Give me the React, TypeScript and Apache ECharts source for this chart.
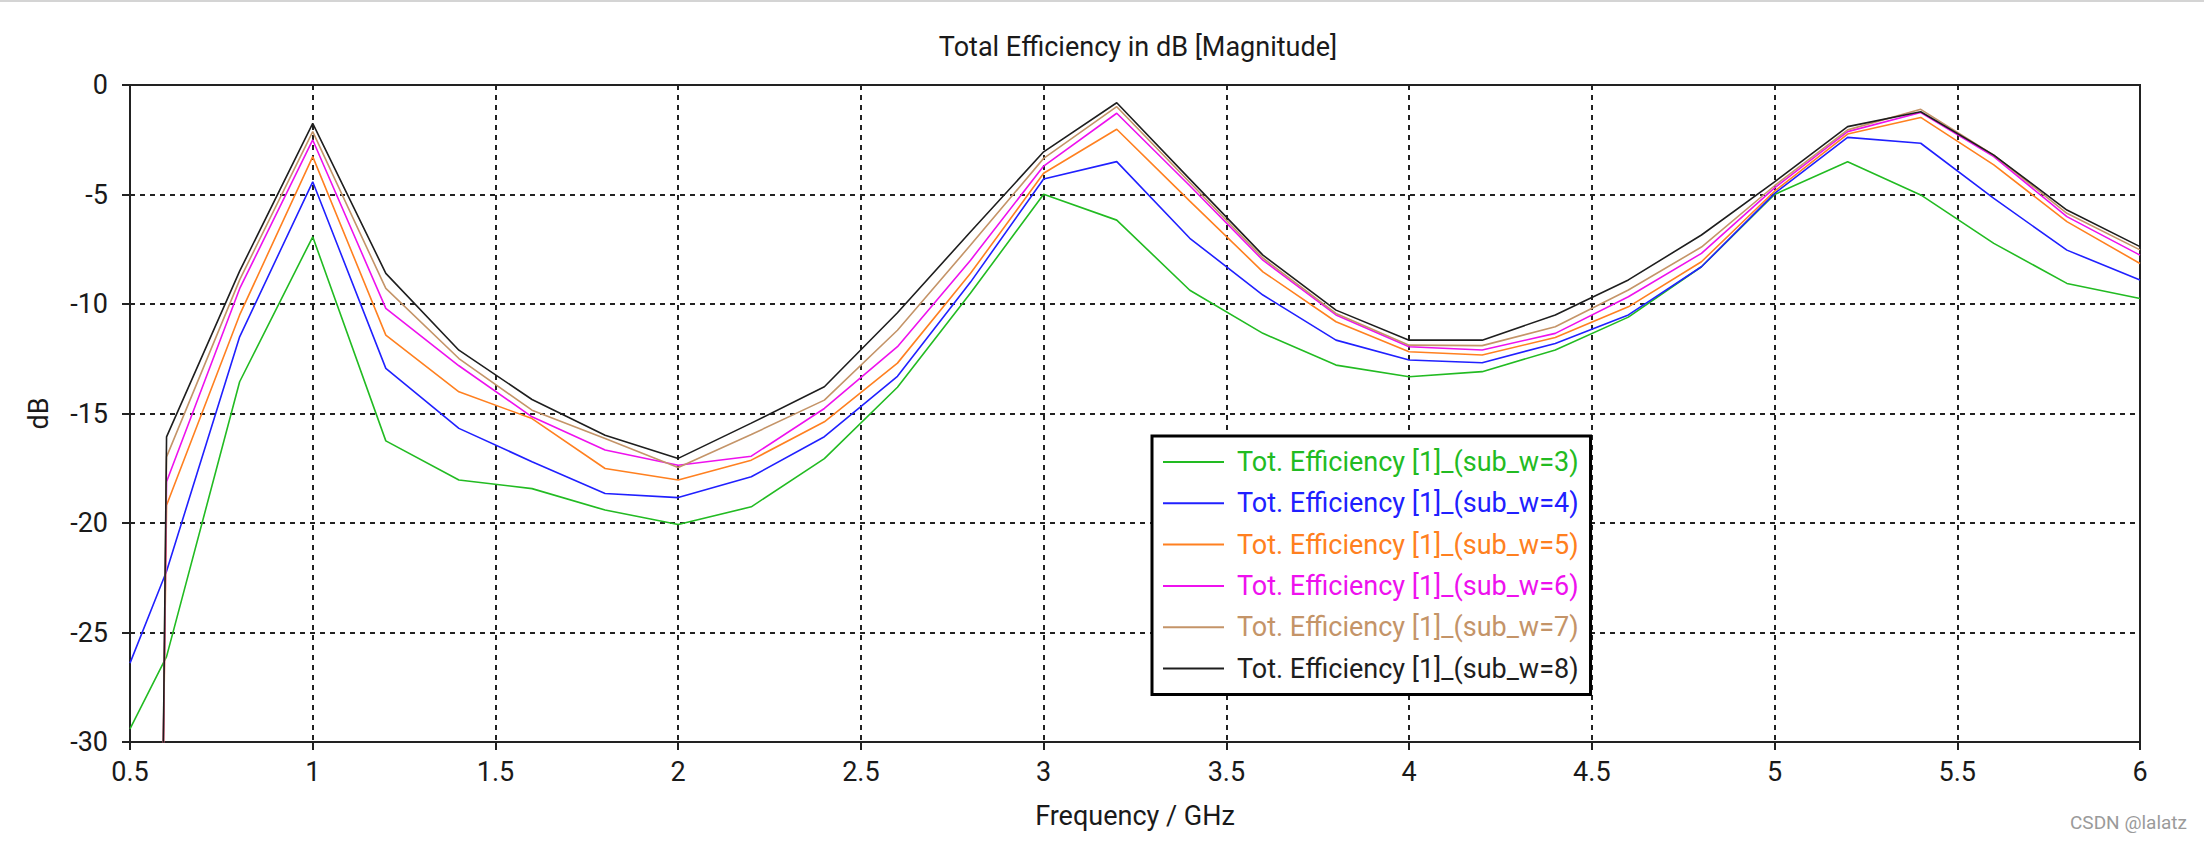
import React, { useEffect, useRef } from "react";
import * as echarts from "echarts";

const TITLE = "Total Efficiency in dB [Magnitude]";
const X_NAME = "Frequency / GHz";
const Y_NAME = "dB";

const seriesNames = [
  "Tot. Efficiency [1]_(sub_w=3)",
  "Tot. Efficiency [1]_(sub_w=4)",
  "Tot. Efficiency [1]_(sub_w=5)",
  "Tot. Efficiency [1]_(sub_w=6)",
  "Tot. Efficiency [1]_(sub_w=7)",
  "Tot. Efficiency [1]_(sub_w=8)",
];
const seriesColors = ["#22bb22", "#2020ff", "#ff8020", "#ee11ee", "#c49468", "#1e1e1e"];

// common frequency samples (GHz)
const freq = [
  0.6, 0.8, 1.0, 1.2, 1.4, 1.6, 1.8, 2.0, 2.2, 2.4, 2.6, 2.8, 3.0, 3.2, 3.4,
  3.6, 3.8, 4.0, 4.2, 4.4, 4.6, 4.8, 5.0, 5.2, 5.4, 5.6, 5.8, 6.0,
];

// leading samples before 0.6 GHz
const leadFreqLow = 0.5; // sub_w=3 and sub_w=4 start here
const leadW3 = -29.4;
const leadW4 = -26.4;
const leadFreqHigh = 0.59; // sub_w=5..8 rise from below the axis here
const leadW5to8 = -32;

const w3 = [-26.1, -13.55, -6.93, -16.25, -18.04, -18.43, -19.41, -20.07, -19.26, -17.06, -13.8, -9.5, -4.99, -6.17, -9.37, -11.34, -12.79, -13.32, -13.09, -12.1, -10.6, -8.3, -5.0, -3.5, -5.02, -7.23, -9.06, -9.75];
const w4 = [-22.2, -11.5, -4.42, -12.94, -15.68, -17.2, -18.65, -18.84, -17.89, -16.06, -13.3, -9.0, -4.29, -3.5, -7.0, -9.59, -11.65, -12.56, -12.68, -11.8, -10.5, -8.3, -4.95, -2.39, -2.66, -5.18, -7.54, -8.9];
const w5 = [-19.19, -10.5, -3.27, -11.42, -14.01, -15.23, -17.51, -18.04, -17.13, -15.38, -12.7, -8.6, -4.03, -2.02, -5.3, -8.53, -10.81, -12.18, -12.33, -11.53, -10.13, -8.07, -4.85, -2.24, -1.48, -3.65, -6.24, -8.15];
const w6 = [-18.12, -9.3, -2.51, -10.2, -12.82, -15.15, -16.67, -17.36, -16.95, -14.77, -11.95, -8.0, -3.7, -1.29, -4.6, -8.0, -10.5, -11.95, -12.1, -11.34, -9.67, -7.69, -4.7, -2.13, -1.26, -3.27, -6.01, -7.77];
const w7 = [-16.98, -8.9, -2.13, -9.29, -12.49, -14.85, -16.14, -17.47, -15.96, -14.39, -11.2, -7.31, -3.35, -0.99, -4.45, -7.9, -10.43, -11.88, -11.9, -11.04, -9.36, -7.4, -4.6, -2.05, -1.11, -3.2, -5.86, -7.53];
const w8 = [-16.07, -8.5, -1.75, -8.6, -12.11, -14.36, -15.99, -17.05, -15.44, -13.78, -10.4, -6.7, -3.05, -0.81, -4.3, -7.77, -10.28, -11.65, -11.65, -10.5, -8.9, -6.85, -4.42, -1.9, -1.22, -3.2, -5.71, -7.38];

const xMin = 0.5, xMax = 6, xStep = 0.5;
const yMin = -30, yMax = 0, yStep = 5;

const FONT = "Roboto";
const TEXT_COLOR = "#1a1a1a";

function pairs(lead: [number, number], ys: number[]): [number, number][] {
  return [lead, ...ys.map((y, i) => [freq[i], y] as [number, number])];
}

export default function App() {
  const ref = useRef<HTMLDivElement>(null);
  useEffect(() => {
    if (!ref.current) return;
    const chart = echarts.init(ref.current, null, { renderer: "svg" });
    const datasets = [
      pairs([leadFreqLow, leadW3], w3),
      pairs([leadFreqLow, leadW4], w4),
      pairs([leadFreqHigh, leadW5to8], w5),
      pairs([leadFreqHigh, leadW5to8], w6),
      pairs([leadFreqHigh, leadW5to8], w7),
      pairs([leadFreqHigh, leadW5to8], w8),
    ];
    chart.setOption({
      animation: false,
      backgroundColor: "#ffffff",
      title: {
        text: TITLE,
        left: 1133,
        textAlign: "center",
        top: 28,
        textStyle: { fontFamily: FONT, fontSize: 27, fontWeight: "normal", color: TEXT_COLOR },
      },
      grid: {
        left: 130,
        right: 64,
        top: 85,
        bottom: 99,
        show: true,
        borderColor: "#222",
        borderWidth: 2,
        backgroundColor: "#fff",
      },
      legend: {
        orient: "vertical",
        left: 1152,
        top: 436,
        padding: [11, 12, 11, 11],
        itemWidth: 61,
        itemHeight: 2,
        itemGap: 11.3,
        icon: "rect",
        backgroundColor: "#fff",
        borderColor: "#000",
        borderWidth: 3,
        selectedMode: false,
        textStyle: { fontFamily: FONT, fontSize: 27, lineHeight: 30, padding: [0, 0, 0, 8] },
        data: seriesNames.map((n, i) => ({ name: n, textStyle: { color: seriesColors[i] } })),
      },
      xAxis: {
        type: "value",
        min: xMin,
        max: xMax,
        interval: xStep,
        name: X_NAME,
        nameLocation: "middle",
        nameGap: 60,
        nameTextStyle: { fontFamily: FONT, fontSize: 27, color: TEXT_COLOR },
        axisLine: { show: true, onZero: false, lineStyle: { color: "#222", width: 2 } },
        axisTick: { show: true, length: 8, lineStyle: { color: "#222", width: 2 } },
        axisLabel: { margin: 16, fontFamily: FONT, fontSize: 27, color: TEXT_COLOR },
        splitLine: { show: true, lineStyle: { type: [5, 5], color: "#222", width: 2 } },
      },
      yAxis: {
        type: "value",
        min: yMin,
        max: yMax,
        interval: yStep,
        name: Y_NAME,
        nameLocation: "middle",
        nameGap: 78,
        nameTextStyle: { fontFamily: FONT, fontSize: 27, color: TEXT_COLOR },
        axisLine: { show: true, onZero: false, lineStyle: { color: "#222", width: 2 } },
        axisTick: { show: true, length: 8, lineStyle: { color: "#222", width: 2 } },
        axisLabel: { margin: 22, fontFamily: FONT, fontSize: 27, color: TEXT_COLOR },
        splitLine: { show: true, lineStyle: { type: [5, 5], color: "#222", width: 2 } },
      },
      series: seriesNames.map((n, i) => ({
        name: n,
        type: "line",
        data: datasets[i],
        symbol: "none",
        clip: true,
        lineStyle: { color: seriesColors[i], width: 1.6 },
        itemStyle: { color: seriesColors[i] },
        z: 2 + i,
      })),
      graphic: [
        { type: "rect", shape: { x: 0, y: 0, width: 2204, height: 2 }, style: { fill: "#d4d4d4" } },
        {
          type: "text",
          left: 2070,
          top: 813,
          style: { text: "CSDN @lalatz", fontFamily: FONT, fontSize: 19, fill: "#9a9a9a" },
        },
      ],
    });
    return () => chart.dispose();
  }, []);
  return (
    <div
      ref={ref}
      style={{ position: "fixed", left: 0, top: 0, width: 2204, height: 841, background: "#fff" }}
    />
  );
}
